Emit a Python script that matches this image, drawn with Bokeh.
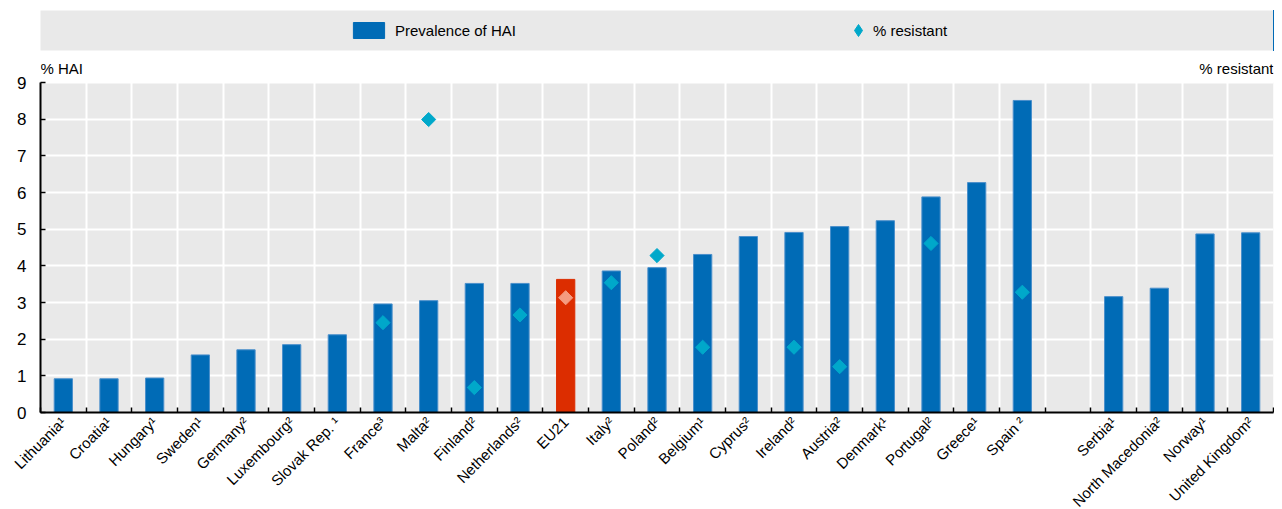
import math
from bokeh.plotting import figure
from bokeh.models import (ColumnDataSource, FixedTicker, Range1d, Label, Legend, LegendItem,
                          BoxAnnotation)
from bokeh.layouts import column
from bokeh.embed import file_html
from bokeh.resources import INLINE

# ---- data ----
countries = ["Lithuania¹", "Croatia¹", "Hungary¹", "Sweden¹", "Germany²", "Luxembourg²",
             "Slovak Rep. ¹", "France³", "Malta²", "Finland²", "Netherlands²", "EU21",
             "Italy²", "Poland²", "Belgium¹", "Cyprus²", "Ireland²", "Austria²", "Denmark¹",
             "Portugal²", "Greece¹", "Spain ²", "", "Serbia¹", "North Macedonia²",
             "Norway¹", "United Kingdom²"]
nan = float("nan")
hai = [0.92, 0.92, 0.94, 1.57, 1.71, 1.85, 2.12, 2.96, 3.05, 3.52, 3.52, 3.63,
       3.86, 3.95, 4.31, 4.80, 4.91, 5.07, 5.23, 5.88, 6.27, 8.51, nan,
       3.16, 3.39, 4.87, 4.90]
resistant = [nan, nan, nan, nan, nan, nan, nan, 2.45, 7.99, 0.68, 2.66, 3.13,
             3.54, 4.28, 1.78, nan, 1.78, 1.25, nan, 4.61, nan, 3.28, nan,
             nan, nan, nan, nan]
series_names = ["Prevalence of HAI", "% resistant"]
y_ticks = [0, 1, 2, 3, 4, 5, 6, 7, 8, 9]
highlight = "EU21"
left_title = "% HAI"
right_title = "% resistant"

# ---- styles ----
FONT = "Liberation Sans"
BLUE = "#006BB6"
BLUE_EDGE = "#4A8FCB"
RED = "#DC2D00"
TEAL = "#00A8CA"
SALMON = "#F59B80"
GRAY = "#E9E9E9"
FS = "15px"

n = len(countries)
xs = list(range(n))
bar_col = [RED if c == highlight else BLUE for c in countries]
edge_col = [RED if c == highlight else BLUE_EDGE for c in countries]
pt_col = [SALMON if c == highlight else TEAL for c in countries]

src = ColumnDataSource(dict(x=xs, hai=hai, res=resistant, bar=bar_col,
                            edge=edge_col, pt=pt_col))

y_top = y_ticks[-1]
head = 0.6  # headroom above the plot area for the axis titles
# ---- main chart ----
p = figure(frame_width=1233, frame_height=352,
           x_range=Range1d(-0.5, n - 0.5), y_range=Range1d(0, y_top + head),
           output_backend="svg", toolbar_location=None,
           min_border_left=40, min_border_right=1, min_border_top=6, min_border_bottom=10,
           background_fill_color="white", border_fill_color="white", outline_line_color=None)

p.add_layout(BoxAnnotation(left=-0.5, right=n - 0.5, bottom=0, top=y_top,
                           fill_color=GRAY, fill_alpha=1, line_color=None, level="image"))

boundaries = [i - 0.5 for i in range(n + 1)]
p.xaxis.ticker = FixedTicker(ticks=[i for i, c in enumerate(countries) if c],
                             minor_ticks=boundaries)
p.xaxis.major_label_overrides = {i: c for i, c in enumerate(countries) if c}
p.xaxis.major_label_orientation = math.pi / 4
p.xaxis.major_tick_in = 0
p.xaxis.major_tick_out = 0
p.xaxis.minor_tick_in = 5
p.xaxis.minor_tick_out = 0
p.xaxis.minor_tick_line_color = "black"
p.xaxis.minor_tick_line_width = 1.5
p.xaxis.axis_line_color = "black"
p.xaxis.axis_line_width = 2
p.xaxis.major_label_standoff = 7
p.xaxis.major_label_text_font = FONT
p.xaxis.major_label_text_font_size = FS
p.xaxis.major_label_text_color = "black"

p.yaxis.ticker = FixedTicker(ticks=y_ticks)
p.yaxis.bounds = (0, y_top)
p.yaxis.major_tick_in = 5
p.yaxis.major_tick_out = 0
p.yaxis.minor_tick_line_color = None
p.yaxis.major_tick_line_color = "black"
p.yaxis.major_tick_line_width = 1.5
p.yaxis.axis_line_color = "black"
p.yaxis.axis_line_width = 2
p.yaxis.major_label_standoff = 14
p.yaxis.major_label_text_font = FONT
p.yaxis.major_label_text_font_size = "17px"
p.yaxis.major_label_text_color = "black"

p.xgrid.ticker = FixedTicker(ticks=boundaries)
p.ygrid.ticker = FixedTicker(ticks=y_ticks)
for g in (p.xgrid, p.ygrid):
    g.grid_line_color = "white"
    g.grid_line_width = 2

p.vbar(x="x", top="hai", width=0.4, source=src, fill_color="bar",
       line_color="edge", line_width=1)
p.scatter(x="x", y="res", source=src, marker="square", angle=math.pi / 4,
          size=10, fill_color="pt", line_color="pt")

p.add_layout(Label(x=-0.5, y=y_top + 0.38, text=left_title, text_align="left",
                   text_baseline="middle", text_font=FONT, text_font_size=FS,
                   text_color="black"))
p.add_layout(Label(x=n - 0.5, y=y_top + 0.38, text=right_title, text_align="right",
                   text_baseline="middle", text_font=FONT, text_font_size=FS,
                   text_color="black"))

# ---- legend band ----
lp = figure(frame_width=1233, frame_height=40,
            x_range=Range1d(-100, -99), y_range=Range1d(0, 1),
            output_backend="svg", toolbar_location=None,
            min_border_left=40, min_border_right=1, min_border_top=10, min_border_bottom=4,
            background_fill_color=GRAY, border_fill_color="white", outline_line_color=None)
lp.axis.visible = False
lp.grid.visible = False
r1 = lp.vbar(x="x", top="hai", width=0.4, source=src, fill_color=BLUE, line_color=BLUE)
r2 = lp.scatter(x="x", y="res", source=src, marker="diamond",
                size=10, fill_color=TEAL, line_color=TEAL)

common = dict(orientation="horizontal", padding=0, margin=0, background_fill_alpha=0,
              border_line_color=None, label_text_font=FONT, label_text_font_size=FS,
              label_text_color="black")
leg1 = Legend(items=[LegendItem(label=series_names[0], renderers=[r1])],
              location=(309, 10), glyph_width=39, glyph_height=20, label_standoff=7, **common)
leg2 = Legend(items=[LegendItem(label=series_names[1], renderers=[r2])],
              location=(803, 5), glyph_width=30, glyph_height=30, label_standoff=-6, **common)
lp.add_layout(leg1)
lp.add_layout(leg2)

layout = column(lp, p)
open("out.html", "w").write(file_html(layout, INLINE))
